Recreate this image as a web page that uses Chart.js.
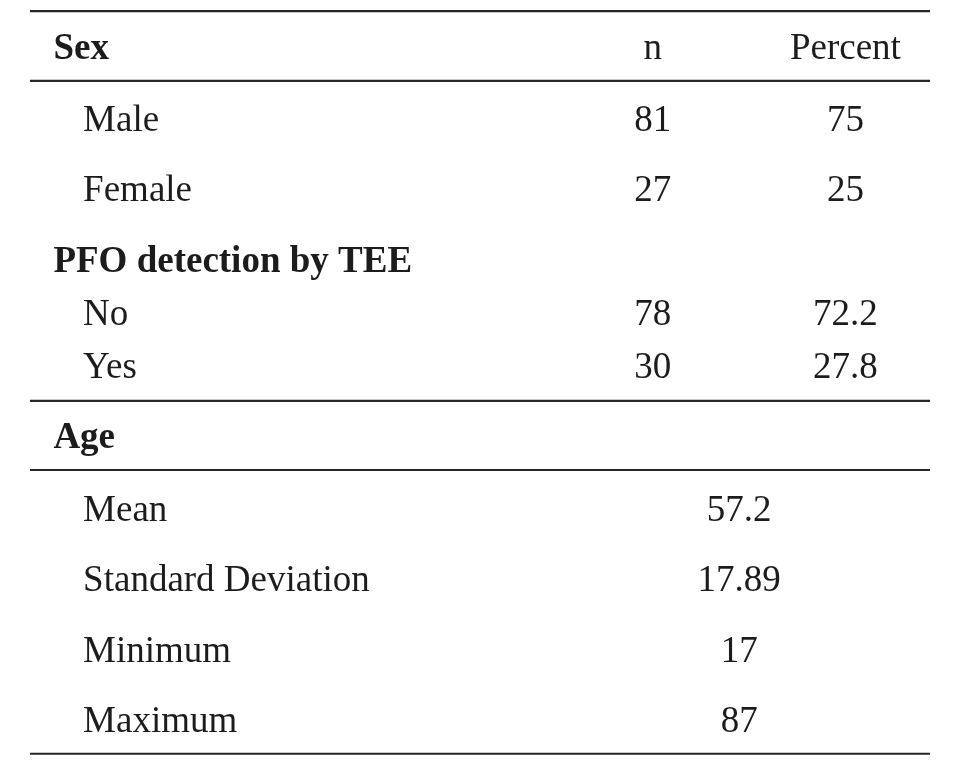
<!DOCTYPE html>
<html>
<head>
<meta charset="utf-8">
<script src="https://cdn.jsdelivr.net/npm/chart.js@4/dist/chart.umd.min.js"></script>
<style>
  html, body { margin: 0; padding: 0; background: #ffffff; }
  #wrap { width: 960px; height: 774px; }
</style>
</head>
<body>
<div id="wrap"><canvas id="c" width="960" height="774"></canvas></div>
<script>
// ---------- DATA ----------
const columnHeaders = ['n', 'Percent'];
const groupHeaders = ['Sex', 'PFO detection by TEE', 'Age'];

const sexCategories = ['Male', 'Female'];
const sexN = [81, 27];
const sexPercent = [75, 25];

const pfoCategories = ['No', 'Yes'];
const pfoN = [78, 30];
const pfoPercent = [72.2, 27.8];

const ageStats = ['Mean', 'Standard Deviation', 'Minimum', 'Maximum'];
const ageValues = ['57.2', '17.89', '17', '87'];

// ---------- LAYOUT (row units on y scale, fractions of table width on x scale) ----------
const ROW_POS = {
  sexHead: 0, sex: [1.02, 2.02],
  pfoHead: 3.02, pfo: [3.78, 4.53],
  ageHead: 5.52, age: [6.55, 7.54, 8.55, 9.54]
};
const RULES = [-0.68, 0.31, 4.85, 5.83, 9.855];
const COL = { head: 0.026, sub: 0.059, n: 0.692, pct: 0.906, merged: 0.788 };
const FONT_FAMILY = '"Liberation Serif", "Times New Roman", Times, serif';
const FONT_SIZE = 37;
const TEXT_COLOR = '#1c1c1c';
const RULE_COLOR = '#262626';

// ---------- Build table rows ----------
const labelRows = [];
labelRows.push({ label: groupHeaders[0], pos: ROW_POS.sexHead, bold: true });
sexCategories.forEach((c, i) => labelRows.push({ label: c, pos: ROW_POS.sex[i], bold: false }));
labelRows.push({ label: groupHeaders[1], pos: ROW_POS.pfoHead, bold: true });
pfoCategories.forEach((c, i) => labelRows.push({ label: c, pos: ROW_POS.pfo[i], bold: false }));
labelRows.push({ label: groupHeaders[2], pos: ROW_POS.ageHead, bold: true });
ageStats.forEach((c, i) => labelRows.push({ label: c, pos: ROW_POS.age[i], bold: false }));

const fmt = v => String(v);
const datasets = [
  {
    label: 'header',
    data: [
      { x: COL.n, y: ROW_POS.sexHead, t: columnHeaders[0] },
      { x: COL.pct, y: ROW_POS.sexHead, t: columnHeaders[1] }
    ]
  },
  {
    label: 'n',
    data: sexN.map((v, i) => ({ x: COL.n, y: ROW_POS.sex[i], t: fmt(v) }))
      .concat(pfoN.map((v, i) => ({ x: COL.n, y: ROW_POS.pfo[i], t: fmt(v) })))
  },
  {
    label: 'Percent',
    data: sexPercent.map((v, i) => ({ x: COL.pct, y: ROW_POS.sex[i], t: fmt(v) }))
      .concat(pfoPercent.map((v, i) => ({ x: COL.pct, y: ROW_POS.pfo[i], t: fmt(v) })))
  },
  {
    label: 'Age',
    data: ageValues.map((v, i) => ({ x: COL.merged, y: ROW_POS.age[i], t: v }))
  }
].map(d => Object.assign(d, { pointRadius: 0, pointHoverRadius: 0, showLine: false }));

const tablePlugin = {
  id: 'tableText',
  beforeDraw(chart) {
    const { ctx, width, height } = chart;
    ctx.save();
    ctx.fillStyle = '#ffffff';
    ctx.fillRect(0, 0, width, height);
    ctx.restore();
  },
  afterDatasetsDraw(chart) {
    const { ctx, scales: { x, y } } = chart;
    ctx.save();
    // horizontal rules
    ctx.strokeStyle = RULE_COLOR;
    ctx.lineWidth = 2.2;
    RULES.forEach(u => {
      const py = y.getPixelForValue(u);
      ctx.beginPath();
      ctx.moveTo(x.getPixelForValue(0), py);
      ctx.lineTo(x.getPixelForValue(1), py);
      ctx.stroke();
    });
    // row labels
    ctx.fillStyle = TEXT_COLOR;
    ctx.textBaseline = 'alphabetic';
    ctx.textAlign = 'left';
    labelRows.forEach(r => {
      ctx.font = (r.bold ? 'bold ' : '') + FONT_SIZE + 'px ' + FONT_FAMILY;
      ctx.fillText(r.label, x.getPixelForValue(r.bold ? COL.head : COL.sub), y.getPixelForValue(r.pos));
    });
    // cell values, placed at the points Chart.js computed
    ctx.textAlign = 'center';
    ctx.font = FONT_SIZE + 'px ' + FONT_FAMILY;
    chart.data.datasets.forEach((ds, i) => {
      const meta = chart.getDatasetMeta(i);
      meta.data.forEach((el, j) => {
        ctx.fillText(ds.data[j].t, el.x, el.y);
      });
    });
    ctx.restore();
  }
};

new Chart(document.getElementById('c'), {
  type: 'scatter',
  data: { datasets },
  options: {
    responsive: false,
    animation: false,
    layout: { padding: { left: 30, right: 30, top: 0, bottom: 0 } },
    plugins: { legend: { display: false }, tooltip: { enabled: false } },
    events: [],
    scales: {
      x: { type: 'linear', min: 0, max: 1, display: false },
      y: { type: 'linear', min: -0.837, max: 10.142, reverse: true, display: false }
    }
  },
  plugins: [tablePlugin]
});
</script>
</body>
</html>
